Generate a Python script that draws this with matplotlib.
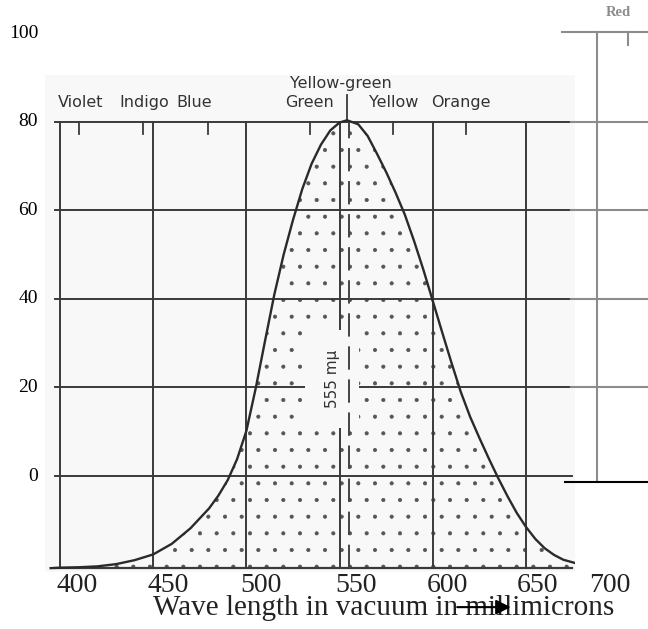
import numpy as np
import matplotlib.pyplot as plt
from matplotlib.transforms import blended_transform_factory

plt.rcParams['hatch.linewidth'] = 0.5

# relative luminosity curve (y in the overlay units)
wavelength = [395, 400, 410, 420, 430, 440, 450, 460, 470, 480, 485, 490, 495,
              500, 505, 510, 515, 520, 525, 530, 535, 540, 545, 550, 554, 560,
              565, 570, 575, 580, 585, 590, 595, 600, 605, 610, 615, 620, 625,
              630, 635, 640, 645, 650, 655, 660, 665, 670, 676]
sensitivity = [-20.8, -20.7, -20.6, -20.4, -19.9, -19.0, -17.7, -15.3, -11.8,
               -7.3, -4.4, -0.9, 3.8, 10.2, 19.8, 30.5, 41.0, 50.0, 57.8, 64.8,
               70.5, 74.8, 78.0, 79.8, 80.3, 79.4, 76.8, 72.8, 68.6, 64.0, 59.0,
               53.0, 46.5, 39.5, 32.5, 25.6, 19.0, 13.4, 8.6, 4.0, -0.4, -4.5,
               -8.3, -11.5, -14.2, -16.3, -17.8, -18.9, -19.6]
baseline = -20.8
peak_nm = 555

grid_x = [400, 450, 500, 550, 600, 650]
grid_y = [0, 20, 40, 60, 80]
y_ticks = [0, 20, 40, 60, 80, 100]
x_tick_labels = ['400', '450', '500', '550', '600', '650', '700']
x_label_pos = [409, 458, 508, 559, 608, 656, 695]

bands = ['Violet', 'Indigo', 'Blue', 'Green', 'Yellow', 'Orange']
band_label_x = [411, 445, 472, 534, 579, 615]
band_tick_x = [410, 444.5, 479.5, 534, 578.5, 618]

# overlay lines on the right
overlay_y = [80, 60, 40, 20]
overlay_top = 100.2
overlay_zero = -1.35
overlay_x = 688.1
red_tick_x = 704.7

fig = plt.figure(figsize=(6.48, 6.29), dpi=100)
ax = fig.add_axes([45 / 648, 57 / 629, 530 / 648, 497 / 629])
ax.set_xlim(391.95, 676.3)
ax.set_ylim(-21.67, 90.52)
ax.set_facecolor('#f8f8f8')
ax.set_xticks([])
ax.set_yticks([])
for s in ax.spines.values():
    s.set_visible(False)

scan = '#3a3a3a'
grey = '#8c8c8c'

# scan grid
for v in grid_y:
    ax.plot([397.3, 674.7], [v, v], color=scan, lw=1.4, zorder=2)
ax.plot([397.3, 674.7], [baseline, baseline], color=scan, lw=1.6, zorder=2)
for v in grid_x:
    ax.plot([v, v], [baseline, 80], color=scan, lw=1.4, zorder=2)

# curve with stipple
ax.fill_between(wavelength, baseline, sensitivity, facecolor='none',
                edgecolor='#555555', hatch='.', lw=0, zorder=1)
ax.plot(wavelength, sensitivity, color='#2a2a2a', lw=1.7, zorder=4)

# 555 marker
ax.text(546, 21.9, '555 m\u03bc', rotation=90, ha='center', va='center',
        fontsize=11, color='#333333', zorder=3,
        bbox=dict(boxstyle='square,pad=1.3', fc='#f8f8f8', ec='none'))
ax.plot([peak_nm, peak_nm], [baseline, 80], color='#444444', lw=1.4,
        dashes=(12, 5), zorder=5)

# colour band ticks / labels
for x in band_tick_x:
    ax.plot([x, x], [80, 77.1], color=scan, lw=1.3, zorder=2)
for name, x in zip(bands, band_label_x):
    ax.text(x, 84.2, name, ha='center', va='center', fontsize=11.5,
            color='#333333')
ax.text(550.7, 88.7, 'Yellow-green', ha='center', va='center', fontsize=11.5,
        color='#333333')
ax.plot([554, 554], [80, 86], color=scan, lw=1.3, clip_on=False)

# grey overlay on the right
for v in overlay_y:
    ax.plot([674, 716], [v, v], color=grey, lw=1.5, clip_on=False)
ax.plot([669.3, 716], [overlay_top, overlay_top], color=grey, lw=1.5,
        clip_on=False)
ax.plot([overlay_x, overlay_x], [overlay_zero, overlay_top], color=grey,
        lw=1.5, clip_on=False)
ax.plot([red_tick_x, red_tick_x], [overlay_top, 97.3], color=grey, lw=1.5,
        clip_on=False)
ax.plot([671, 716], [overlay_zero, overlay_zero], color='black', lw=1.5,
        clip_on=False)
ax.text(699.4, 104.7, 'Red', ha='center', va='center', fontsize=10.5,
        fontweight='bold', family='Liberation Serif', color=grey)

# axis labels
ty = blended_transform_factory(ax.transAxes, ax.transData)
for v in y_ticks:
    ax.text(-0.013, v, str(v), transform=ty, ha='right', va='center',
            fontsize=14, family='Liberation Serif', color='black')

tx = blended_transform_factory(ax.transData, ax.transAxes)
for lab, x in zip(x_tick_labels, x_label_pos):
    ax.text(x, -0.028, lab, transform=tx, ha='center', va='center',
            fontsize=20, family='Liberation Serif', color='#222222')

ax.text(0.638, -0.072, 'Wave length in vacuum in millimicrons',
        transform=ax.transAxes, ha='center', va='center', fontsize=21,
        family='Liberation Serif', color='#222222')
ax.annotate('', xy=(643.3, -29.6), xytext=(611.6, -29.6),
            arrowprops=dict(arrowstyle='-|>', color='black', lw=1.5,
                            mutation_scale=22),
            annotation_clip=False)

fig.savefig('out.png', dpi=100)
